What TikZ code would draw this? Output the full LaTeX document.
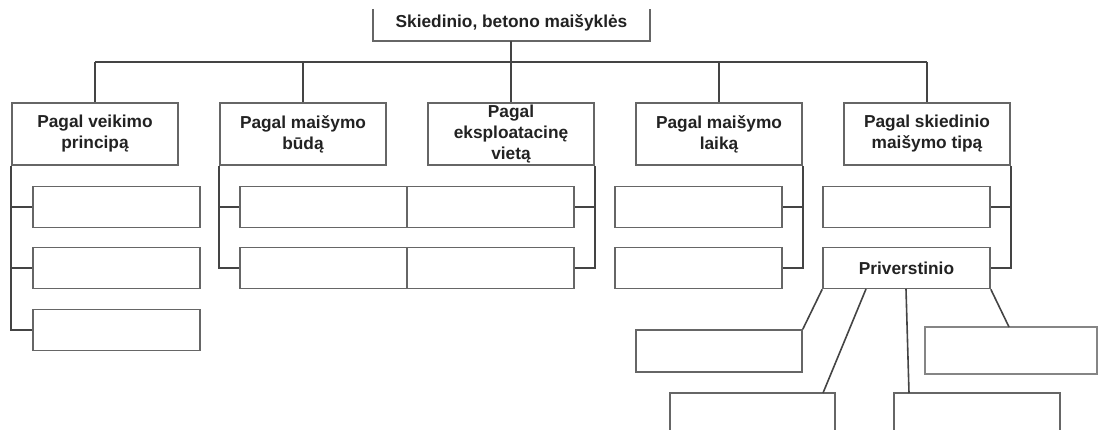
\documentclass[tikz,border=0pt]{standalone}
\usepackage{fontspec}
\setmainfont{Liberation Sans}
\definecolor{boxgray}{HTML}{666666}
\definecolor{linegray}{HTML}{444444}
\definecolor{txt}{HTML}{222222}
\begin{document}
\begin{tikzpicture}[x=1pt,y=-1pt,
  box/.style={draw=boxgray,line width=1.6pt,fill=white,inner sep=0pt,
    minimum width=#1,align=center,font=\fontsize{17.3}{21}\selectfont\bfseries,text=txt},
  box/.default=166pt,
  catbox/.style={box,minimum height=62pt},
  leaf/.style={box=167pt,minimum height=41pt},
  conn/.style={draw=linegray,line width=2pt}]
\useasboundingbox (0,0) rectangle (1098,430);
\clip (0,0) rectangle (1098,430);
% title
\node[inner sep=0pt,font=\fontsize{17.3}{21}\selectfont\bfseries,text=txt] (title) at (511.5,23) {Skiedinio, betono maišyklės};
\coordinate (tl) at (373,9);
\coordinate (tr) at (650,9);
\draw[draw=boxgray,line width=1.6pt] (tl) |- (511,41) coordinate (ts) -| (tr);
% categories
\node[catbox] (c1) at (95,134) {Pagal veikimo\\principą};
\node[catbox] (c2) at (303,134) {Pagal maišymo\\būdą};
\node[catbox] (c3) at (511,134) {Pagal\\eksploatacinę\\vietą};
\node[catbox] (c4) at (719,134) {Pagal maišymo\\laiką};
\node[catbox] (c5) at (927,134) {Pagal skiedinio\\maišymo tipą};
% bus
\coordinate (busL) at (95,62);
\coordinate (busR) at (927,62);
\draw[conn] (busL) -- (busR);
\draw[conn] (ts) -- (c3.north);
\draw[conn] (busL) -- (c1.north);
\draw[conn] (303,62) -- (c2.north);
\draw[conn] (busR) -- (c5.north);
\draw[conn] (719,62) -- (c4.north);
% leaves column 1
\node[leaf] (l11) at (116.5,207) {};
\node[leaf] (l12) at (116.5,268) {};
\node[leaf] (l13) at (116.5,330) {};
\draw[conn] (c1.south west) |- (l13.west);
\draw[conn] (c1.south west |- l11.west) -- (l11.west);
\draw[conn] (c1.south west |- l12.west) -- (l12.west);
% leaves columns 2/3
\node[leaf] (l21) at (323.5,207) {};
\node[leaf] (l22) at (323.5,268) {};
\node[leaf] (l31) at (490.5,207) {};
\node[leaf] (l32) at (490.5,268) {};
\draw[conn] (c2.south west) |- (l22.west);
\draw[conn] (c2.south west |- l21.west) -- (l21.west);
\draw[conn] (c3.south east) |- (l32.east);
\draw[conn] (c3.south east |- l31.east) -- (l31.east);
% leaves column 4
\node[leaf] (l41) at (698.5,207) {};
\node[leaf] (l42) at (698.5,268) {};
\draw[conn] (c4.south east) |- (l42.east);
\draw[conn] (c4.south east |- l41.east) -- (l41.east);
% leaves column 5
\node[leaf] (l51) at (906.5,207) {};
\node[leaf] (priv) at (906.5,268) {Priverstinio};
\draw[conn] (c5.south east) |- (priv.east);
\draw[conn] (c5.south east |- l51.east) -- (l51.east);
% Priverstinio children
\node[box,minimum height=42pt] (pa) at (719,351) {};
\node[box=165pt,minimum height=42pt] (pb) at (752.5,414) {};
\node[box,minimum height=42pt] (pc) at (977,414) {};
\node[draw=boxgray!80,line width=2.6pt,fill=white,inner sep=0pt,minimum width=172pt,minimum height=47pt] (pd) at (1011,350.5) {};
\draw[conn,line width=1.6pt] (priv.south west) -- (pa.north east);
\draw[conn,line width=1.6pt] (866,289) coordinate (pb0) -- (823,393) coordinate (pb1);
\draw[conn,line width=1.6pt] (906,289) coordinate (pc0) -- (909,393) coordinate (pc1);
\draw[conn,line width=1.6pt] (priv.south east) -- (1009,327) coordinate (pd1);
\end{tikzpicture}
\end{document}
